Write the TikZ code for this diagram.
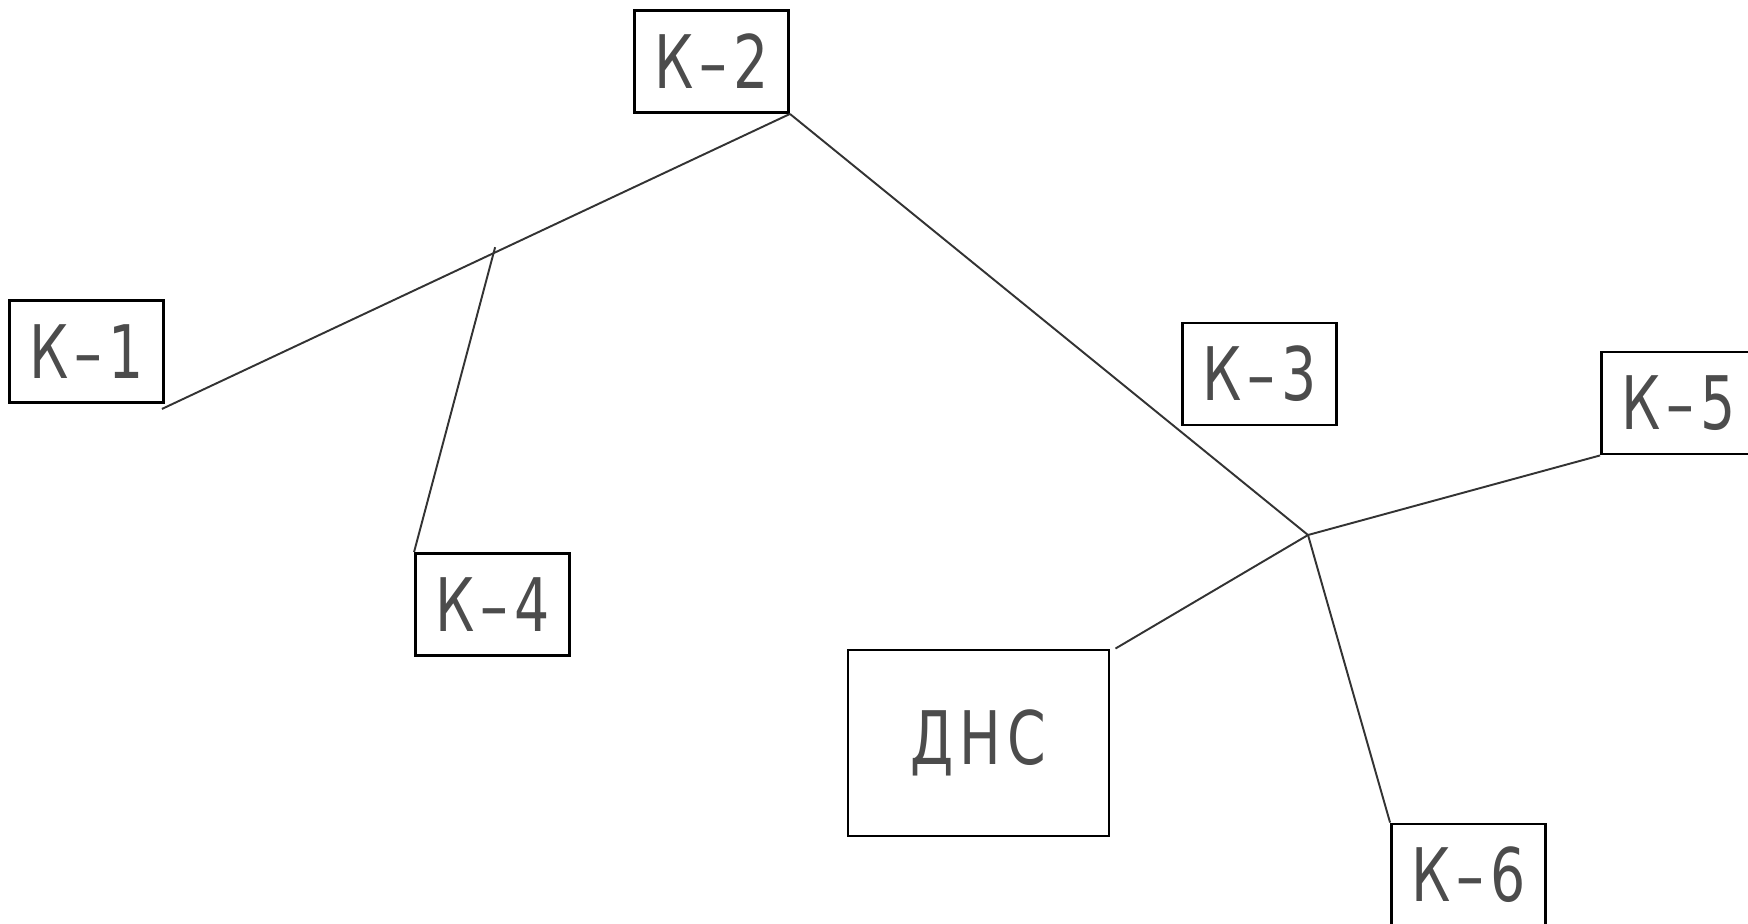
\documentclass[tikz,border=0pt]{standalone}
\usepackage{fontspec}
\usetikzlibrary{calc}
\newfontfamily\lbl[FakeStretch=0.75,LetterSpace=8]{DejaVu Sans}
\begin{document}
\begin{tikzpicture}[x=0.01cm,y=-0.01cm,
  box/.style={draw, line width=0.8pt, inner sep=0pt, font=\lbl\fontsize{21}{24}\selectfont, text=black!70},
  kbox/.style={box, minimum width=1.54cm, minimum height=1.02cm},
  pipe/.style={line width=0.55pt, draw=black!80}]
\useasboundingbox (0,0) rectangle (1748,924);
\clip (0,0) rectangle (1748,924);
\node[kbox] (k1) at (86.5,351.5) {К–1};
\node[kbox] (k2) at (711.5,61.5) {К–2};
\node[kbox] (k3) at (1259.5,374) {К–3};
\node[kbox] (k4) at (492.5,604.5) {К–4};
\node[kbox] (k5) at (1678.5,403) {К–5};
\node[kbox] (k6) at (1468.5,875) {К–6};
\node[box, minimum width=2.61cm, minimum height=1.86cm] (dns) at (978.5,743) {ДНС};
\coordinate (k1e) at ($(k1.south east)+(-3,5)$);
\coordinate (j1) at ($(k1e)!0.528!(k2.south east)$);
\coordinate (j2) at (1308,535);
\coordinate (dnse) at ($(dns.north east)+(5,0)$);
\draw[pipe] (k1e) -- (k2.south east);
\draw[pipe] (k4.north west) -- ($(k4.north west)!1.02!(j1)$);
\draw[pipe] (k2.south east) -- (j2);
\draw[pipe] (j2) -- (k5.south west);
\draw[pipe] (j2) -- (k6.north west);
\draw[pipe] (j2) -- (dnse);
\end{tikzpicture}
\end{document}
